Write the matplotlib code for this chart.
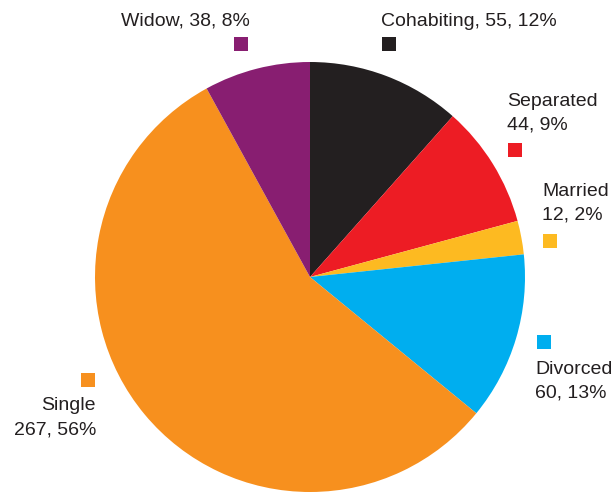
import matplotlib
matplotlib.use('Agg')
import matplotlib.pyplot as plt
from matplotlib.patches import Rectangle

labels = ['Cohabiting', 'Separated', 'Married', 'Divorced', 'Single', 'Widow']
counts = [55, 44, 12, 60, 267, 38]
pcts = [12, 9, 2, 13, 56, 8]
colors = ['#231F20', '#ED1C24', '#FDBA21', '#00AEEF', '#F7901E', '#881E71']

plt.rcParams['font.family'] = ['Liberation Sans', 'DejaVu Sans']

W, H = 614, 492
fig = plt.figure(figsize=(W / 100, H / 100), dpi=100)
ax = fig.add_axes([0, 0, 1, 1])
ax.set_xlim(0, W)
ax.set_ylim(0, H)
ax.axis('off')

ax.pie(counts, colors=colors, startangle=90, counterclock=False,
       center=(310, H - 277), radius=215, wedgeprops=dict(linewidth=0))
ax.set_xlim(0, W)
ax.set_ylim(0, H)
ax.set_aspect('equal')

# label layout: (text x, text centre y, ha, two lines?, square x, square y) in pixel coords
layout = {
    'Cohabiting': (381, 21, 'left', False, 382, 37),
    'Separated': (507, 101, 'left', True, 508, 143),
    'Married': (542, 191, 'left', True, 543, 234),
    'Divorced': (535, 369, 'left', True, 537, 335),
    'Single': (96, 406, 'right', True, 81, 373),
    'Widow': (250, 21, 'right', False, 234, 37),
}

fs = 14
for lab, n, p, c in zip(labels, counts, pcts, colors):
    tx, ty, ha, two, sx, sy = layout[lab]
    if two:
        ax.text(tx, H - ty, lab, ha=ha, va='center', fontsize=fs, color='#231F20')
        ax.text(tx, H - ty - 24, f'{n}, {p}%', ha=ha, va='center', fontsize=fs, color='#231F20')
    else:
        ax.text(tx, H - ty, f'{lab}, {n}, {p}%', ha=ha, va='center', fontsize=fs, color='#231F20')
    ax.add_patch(Rectangle((sx, H - sy - 14), 14, 14, color=c, lw=0))

fig.savefig('out.png', dpi=100)
